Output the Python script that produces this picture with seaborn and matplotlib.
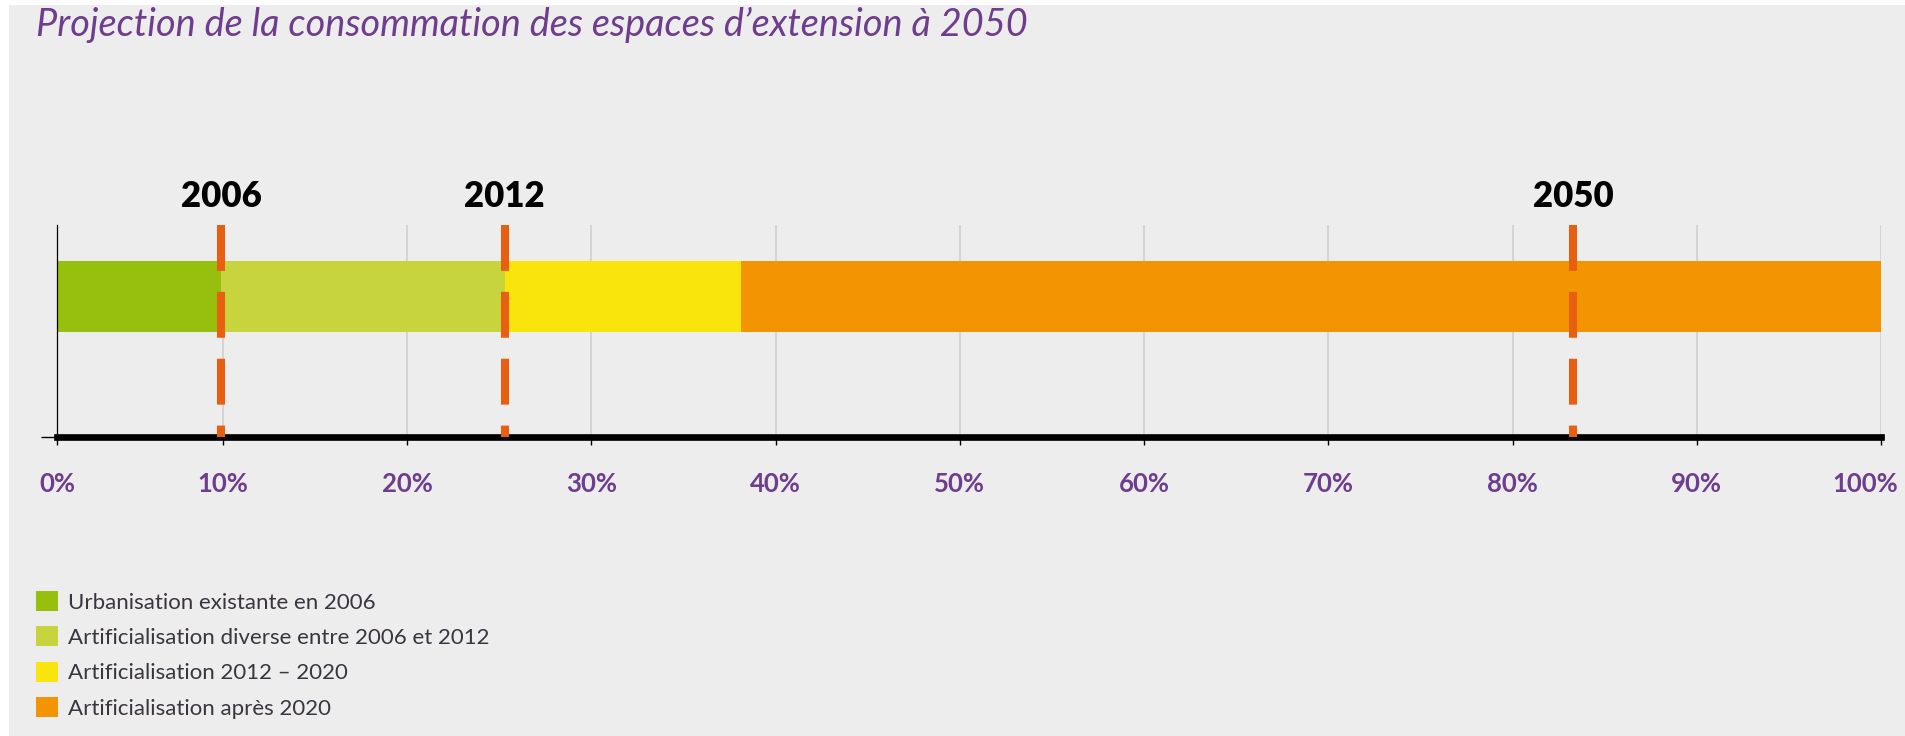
import matplotlib
matplotlib.use("Agg")
import matplotlib.pyplot as plt
from matplotlib.patches import Patch, Rectangle
from matplotlib.transforms import blended_transform_factory, ScaledTranslation
import seaborn as sns
import pandas as pd
import numpy as np

# ---- data ----
categories = [
    "Urbanisation existante en 2006",
    "Artificialisation diverse entre 2006 et 2012",
    "Artificialisation 2012 – 2020",
    "Artificialisation après 2020",
]
shares = [9.9, 15.4, 12.8, 61.9]          # % of the total extension space
colors = ["#97C00E", "#C8D43E", "#F9E50C", "#F39502"]
milestone_years = ["2006", "2012", "2050"]
milestone_pos = [9.9, 25.3, 83.3]          # % position of each milestone
xtick_values = list(range(0, 101, 10))
xtick_labels = [f"{v}%" for v in xtick_values]
title = "Projection de la consommation des espaces d’extension à 2050"

BG = "#ECEDEC"
PURPLE = "#6E3D8E"
DASH = "#E95F12"

sns.set_theme(style="white")
plt.rcParams["font.family"] = ["Lato", "DejaVu Sans"]

fig = plt.figure(figsize=(19.05, 7.36), dpi=100, facecolor="white")
fig.patches.append(Rectangle((9 / 1905, 0), 1 - 9 / 1905, 1 - 5 / 736,
                             transform=fig.transFigure, facecolor=BG,
                             edgecolor="none", zorder=-10))
ax = fig.add_axes([0.0299, 0.4062, 0.9575, 0.2881])
ax.set_facecolor(BG)

# the original axis compresses the first 10 % interval slightly
def fwd(v):
    v = np.asarray(v, dtype=float)
    return np.where(v < 10, 0.9 * v, v - 1.0)

def inv(u):
    u = np.asarray(u, dtype=float)
    return np.where(u < 9, u / 0.9, u + 1.0)

ax.set_xscale("function", functions=(fwd, inv))

cum = np.cumsum(shares)
df = pd.DataFrame({"cat": categories, "cum": cum, "group": ["total"] * len(categories)})

# stacked horizontal bar: draw cumulative bars from longest to shortest
for i in range(len(categories) - 1, -1, -1):
    sns.barplot(data=df.iloc[[i]], x="cum", y="group", orient="h",
                color=colors[i], saturation=1, width=0.8, ax=ax, zorder=2,
                edgecolor="none")

ybot, ytop = 1.578, -0.802
ax.set_xscale("function", functions=(fwd, inv))
ax.set_ylim(ybot, ytop)
ax.set_xlim(0, 100)

# milestones
trans = blended_transform_factory(ax.transData, ax.transAxes)
for yr, pos in zip(milestone_years, milestone_pos):
    ax.plot([pos, pos], [ytop, ybot], color=DASH, lw=5.8, dashes=(5.7, 2.6),
            solid_capstyle="butt", dash_capstyle="butt", zorder=5)
    ax.text(pos, 1.135, yr, transform=trans, ha="center", va="center",
            fontsize=25, fontweight="heavy", color="black")

# axes styling
ax.set_xticks(xtick_values)
ax.set_xticklabels(xtick_labels)
ax.set_yticks([ybot])
ax.set_yticklabels([""])
ax.set_xlabel("")
ax.set_ylabel("")
ax.grid(axis="x", color="#CFCFCF", lw=1.2, zorder=0)
ax.grid(axis="y", visible=False)
ax.set_axisbelow(True)
for s in ["top", "right"]:
    ax.spines[s].set_visible(False)
ax.spines["bottom"].set_color("black")
ax.spines["bottom"].set_linewidth(4.8)
ax.spines["bottom"].set_zorder(4)
ax.spines["left"].set_color("black")
ax.spines["left"].set_linewidth(0.9)
ax.tick_params(axis="x", which="major", bottom=True, length=6, width=1,
               color="black", pad=19, labelsize=18.5, labelcolor=PURPLE)
ax.tick_params(axis="y", which="major", left=True, length=11.5, width=1, color="black")
xlabels = ax.get_xticklabels()
for lab in xlabels:
    lab.set_fontweight("bold")
xlabels[-1].set_transform(xlabels[-1].get_transform() +
                          ScaledTranslation(-0.16, 0, fig.dpi_scale_trans))

# title
fig.text(0.019, 0.966, title, ha="left", va="center", fontsize=27.3,
         fontstyle="italic", color=PURPLE)

# legend
handles = [Patch(facecolor=c, edgecolor="none") for c in colors]
fig.legend(handles, categories, loc="upper left",
           bbox_to_anchor=(0.019, 0.197), frameon=False, fontsize=16,
           handlelength=1.0, handleheight=1.0, handletextpad=0.45,
           labelspacing=0.62, borderpad=0, borderaxespad=0, labelcolor="#3A3540")

fig.savefig("out.png", dpi=100, facecolor="white")
